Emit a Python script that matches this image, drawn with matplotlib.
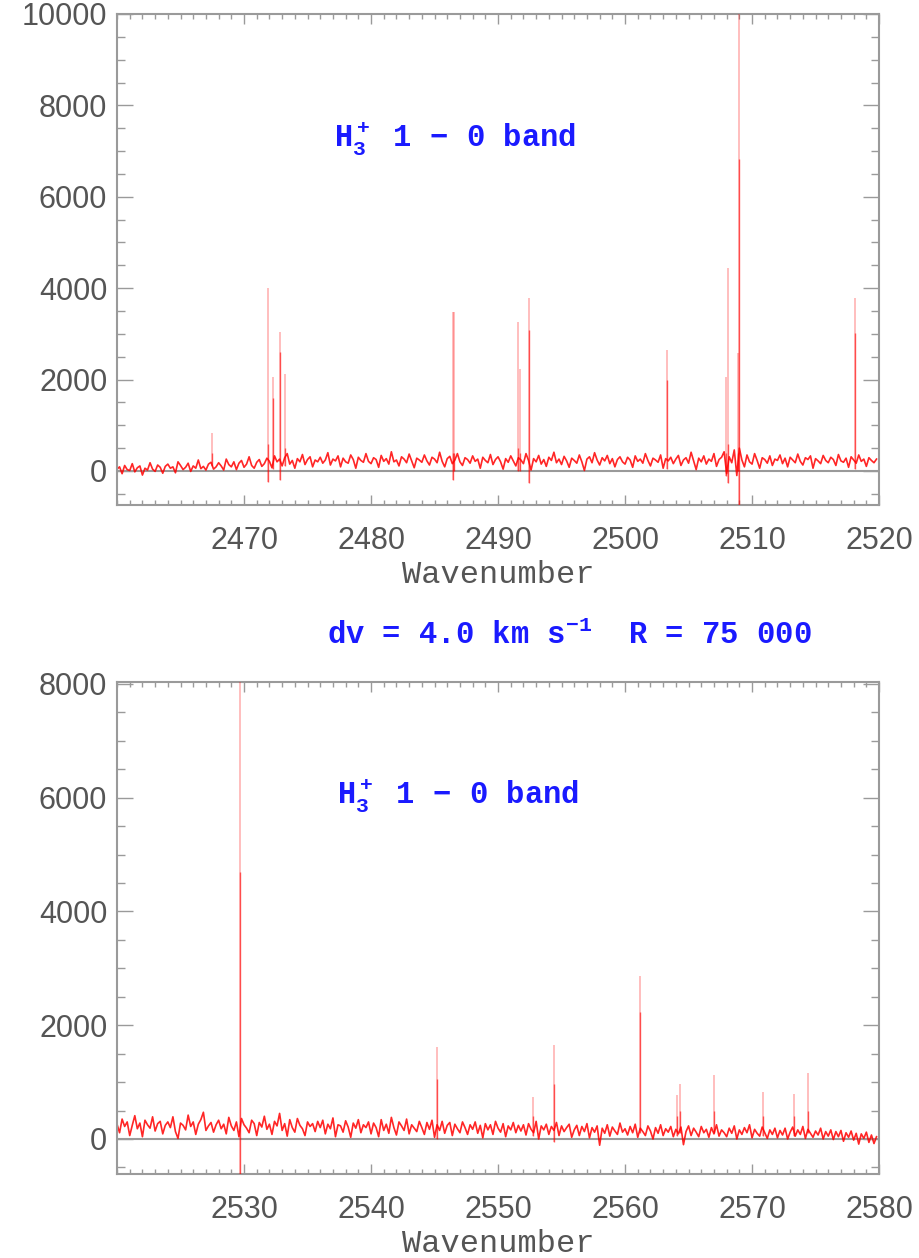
import numpy as np
import matplotlib
matplotlib.use("Agg")
import matplotlib.pyplot as plt
from matplotlib.ticker import MultipleLocator, FixedLocator

# ---- data ----
# upper panel: 2460-2520 cm-1, baseline sampled every 0.2 cm-1
top_start, top_step = 2460.0, 0.2
top_noise = [
    40, 90, -60, 120, 30, 10, 160, -20, 70, 110, -90, 60, 20, 180, 40, -10, 130, 80, -50, 100,
    150, 60, 90, -40, 200, 120, 30, 80, 170, -10, 110, 60, 240, 50, 100, 20, 150, 190, 40, 90,
    180, 110, 20, 260, 140, 90, 200, 30, 170, 230, 80, 150, 310, 120, 60, 190, 250, 100, 160, 280,
    210, 70, 330, 200, 260, 110, 290, 380, 150, 230, 60, 270, 200, 360, 140, 250, 310, 90, 240, 200,
    300, 170, 240, 400, 130, 260, 220, 330, 90, 280, 200, 170, 350, 250, 60, 300, 230, 190, 380, 210,
    160, 290, 250, 80, 340, 210, 270, 150, 420, 200, 240, 110, 310, 260, 180, 370, 220, 70, 280, 240,
    190, 350, 220, 130, 300, 260, 180, 410, 210, 90, 270, 320, 160, 240, 380, 200, 120, 290, 250, 170,
    330, 210, 260, 60, 300, 230, 180, 360, 140, 250, 310, 200, 40, 270, 190, 330, 220, 110, 290, 240,
    160, 380, 230, 20, 270, 200, 340, 150, 250, 100, 300, 230, 410, 180, 260, 140, 320, 220, 80, 280,
    230, 170, 350, 200, 10, 260, 310, 180, 400, 240, 130, 290, 220, 340, 160, 270, 90, 250, 310, 200,
    150, 300, 240, 80, 330, 210, 260, 170, 380, 230, 110, 280, 240, 190, 350, 60, 270, 220, 300, 160,
    260, 340, 120, 240, 290, 170, 410, 220, 30, 280, 200, 330, 150, 260, 210, 380, 100, 250, 300, 420,
    -60, 310, 180, 460, -100, 500, 240, 90, 350, 200, 150, 380, 230, 60, 290, 250, 170, 330, 120, 260,
    230, 350, 160, 280, 90, 300, 240, 180, 370, 210, 130, 290, 250, 330, 60, 270, 220, 160, 340, 230,
    180, 300, 250, 120, 360, 220, 190, 280, 80, 310, 240, 170, 350, 210, 260, 100, 290, 230, 180, 260,
]
top_line_x = [2467.5, 2471.9, 2472.3, 2472.8, 2473.2, 2486.45, 2486.55, 2491.55, 2491.7,
              2492.45, 2503.3, 2508.1, 2507.95, 2509.0, 2508.9, 2518.1]
top_line_peak = [830, 4000, 2060, 3040, 2120, 3470, 3470, 3260, 2230,
                 3790, 2650, 4440, 2060, 10500, 2580, 3790]
top_line_mid = [400, 600, 1600, 2600, 500, 400, 400, 500, 400,
                3090, 2000, 600, 400, 6830, 400, 3020]
top_line_low = [100, -240, 50, -200, 100, -200, 0, 0, 0,
                -270, 50, -260, -100, -800, 0, 50]

# lower panel: 2520-2580 cm-1
bot_start, bot_step = 2520.0, 0.2
bot_noise = [
    260, 110, 350, 220, 300, 60, 240, 410, 180, 280, 40, 330, 250, 190, 390, 140, 270, 310, 90, 240,
    300, 200, 390, 130, 10, 280, 240, 160, 420, 220, 300, 80, 260, 340, 470, 150, 230, 290, 120, 250,
    330, 180, 260, 90, 380, 230, 150, 300, 40, 360, 250, 190, 110, 330, 270, 60, 290, 210, 400, 170,
    260, 80, 310, 230, 450, 150, 270, 50, 340, 200, 120, 360, 240, 180, 60, 300, 220, 270, 130, 310,
    200, 330, 90, 260, 180, 370, 40, 250, 230, 120, 320, 210, 30, 280, 190, 340, 110, 250, 200, 300,
    90, 280, 200, 40, 340, 150, 260, 100, 380, 200, 70, 300, 230, 150, 350, 90, 250, 190, 130, 310,
    200, 80, 290, 170, 330, 30, 250, 150, 310, 100, 240, 290, 60, 260, 180, 110, 300, 200, 80, 250,
    170, 300, 100, 240, 20, 270, 160, 250, 80, 310, 190, 120, 270, 40, 230, 160, 290, 110, 240, 140,
    250, 70, 270, 170, 110, 310, 0, 230, 160, 260, 80, 220, 150, 290, 60, 230, 130, 200, 260, 30,
    160, 240, 60, 220, 130, 270, 20, 200, 120, 230, -110, 190, 100, 250, 50, 210, 140, 80, 280, 120,
    180, 70, 220, 110, 260, 30, 190, 130, 60, 230, 140, 0, 200, 100, 250, 60, 180, 120, 220, 40,
    170, 90, 210, -100, 130, 230, 60, 190, 120, 40, 220, 110, 170, 30, 200, 90, 250, 50, 160, 110,
    40, 190, 100, 230, 0, 160, 80, 200, 110, 250, 20, 170, 100, 50, 210, 110, 10, 160, 80, 190,
    20, 150, 70, 190, 0, 120, 210, 50, 160, 80, 220, 10, 170, 100, 30, 140, 70, 190, 0, 130,
    50, 160, -10, 130, 40, 150, -40, 110, 30, 140, -20, 100, -90, 90, 10, 120, -60, 70, -80, 40,
]
bot_line_x = [2529.65, 2545.2, 2552.75, 2554.4, 2561.2, 2564.1, 2564.3, 2567.0, 2570.9, 2573.3, 2574.4]
bot_line_peak = [8200, 1610, 740, 1660, 2870, 780, 960, 1120, 820, 785, 1160]
bot_line_mid = [4690, 1050, 400, 960, 2240, 400, 500, 500, 400, 400, 500]
bot_line_low = [-700, 0, 50, -50, 100, 50, 100, 100, 50, 50, 100]

panels = [
    dict(start=top_start, step=top_step, noise=top_noise, lx=top_line_x, lp=top_line_peak,
         lm=top_line_mid, ll=top_line_low, xlim=(2460, 2520), ylim=(-744, 10000),
         xt=[2470, 2480, 2490, 2500, 2510, 2520], yt=[0, 2000, 4000, 6000, 8000, 10000],
         rect=[0.1272, 0.5986, 0.8283, 0.3903], lab=(0.494, 0.890)),
    dict(start=bot_start, step=bot_step, noise=bot_noise, lx=bot_line_x, lp=bot_line_peak,
         lm=bot_line_mid, ll=bot_line_low, xlim=(2520, 2580), ylim=(-615, 8035),
         xt=[2530, 2540, 2550, 2560, 2570, 2580], yt=[0, 2000, 4000, 6000, 8000],
         rect=[0.1272, 0.0668, 0.8283, 0.3911], lab=(0.498, 0.368)),
]

GREY = "#9a9a9a"
TXT = "#555555"
BLUE = "#1a1aff"

fig = plt.figure(figsize=(9.2, 12.58), dpi=100)

for p in panels:
    ax = fig.add_axes(p["rect"])
    x = p["start"] + p["step"] * np.arange(len(p["noise"]))
    ax.axhline(0, color=GREY, lw=1.5, zorder=1)
    ax.plot(x, p["noise"], color="red", lw=1.2, alpha=0.85, zorder=2)
    ax.vlines(p["lx"], p["ll"], p["lp"], color="red", lw=1.2, alpha=0.3, zorder=3)
    ax.vlines(p["lx"], p["ll"], p["lm"], color="red", lw=1.0, alpha=0.6, zorder=3)

    ax.set_xlim(*p["xlim"])
    ax.set_ylim(*p["ylim"])
    ax.xaxis.set_major_locator(FixedLocator(p["xt"]))
    ax.xaxis.set_minor_locator(MultipleLocator(1))
    ax.yaxis.set_major_locator(FixedLocator(p["yt"]))
    ax.yaxis.set_minor_locator(MultipleLocator(500))
    ax.tick_params(axis="both", which="both", direction="in", top=True, right=True,
                   color=GREY, width=1.0, labelcolor=TXT, labelsize=22)
    for lbl in ax.get_xticklabels() + ax.get_yticklabels():
        lbl.set_family("Liberation Sans")
    ax.tick_params(axis="x", which="major", length=7.5, pad=15)
    ax.tick_params(axis="x", which="minor", length=3.8)
    ax.tick_params(axis="y", which="major", length=11.5, pad=7)
    ax.tick_params(axis="y", which="minor", length=5.8)
    for s in ax.spines.values():
        s.set_color(GREY)
        s.set_linewidth(1.5)
    ax.set_xlabel("Wavenumber", family="Liberation Mono", fontsize=23, color=TXT, labelpad=3)

    fig.text(p["lab"][0], p["lab"][1], r"$\mathregular{H_3^+}$ 1 − 0 band",
             family="Liberation Mono", weight="bold", fontsize=22, color=BLUE,
             ha="center", va="center")

fig.text(0.619, 0.495, r"dv = 4.0 km s$\mathregular{^{-1}}$  R = 75 000",
         family="Liberation Mono", weight="bold", fontsize=22, color=BLUE,
         ha="center", va="center")

fig.savefig("out.png", dpi=100)
